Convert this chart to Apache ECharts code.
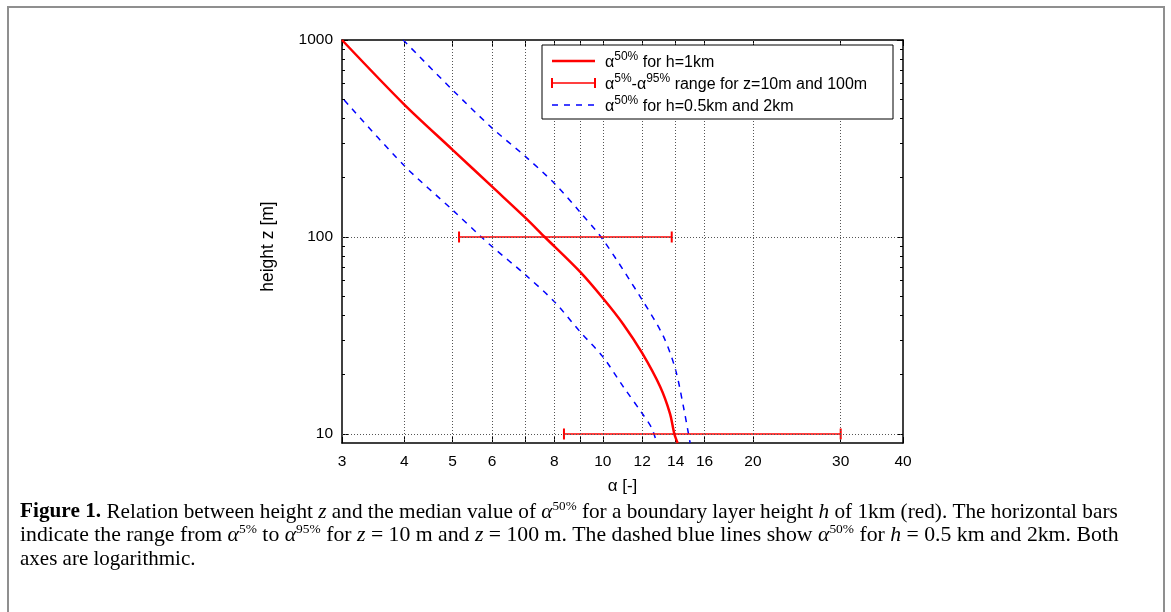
<!DOCTYPE html>
<html>
<head>
<meta charset="utf-8">
<script src="https://cdn.jsdelivr.net/npm/echarts@6/dist/echarts.min.js"></script>
<style>
  html, body { margin: 0; padding: 0; background: #fff; }
  #chart { width: 1171px; height: 612px; }
</style>
</head>
<body>
<div id="chart"></div>
<script>
// Axis ticks and grid positions
var alphaLabels = [3, 4, 5, 6, 8, 10, 12, 14, 16, 20, 30, 40];
var alphaGrid = [4, 5, 6, 7, 8, 9, 10, 12, 14, 16, 20, 30];
var heightLabels = [10, 100, 1000];
var heightMinor = [20, 30, 40, 50, 60, 70, 80, 90, 200, 300, 400, 500, 600, 700, 800, 900];
var heightGrid = [10, 100];

// Median alpha profile for h = 1 km
var alphaH1 = [3.0, 4.0, 5.0, 6.0, 7.0, 7.65, 9.0, 10.0, 11.0, 12.0, 13.03, 13.64, 13.92, 14.13];
var zH1 = [1000, 470, 277, 180, 125, 100, 66.7, 49, 36, 25.7, 17.4, 12.7, 10, 9];

// Median alpha profile for h = 0.5 km
var alphaH05 = [3.03, 4.0, 5.0, 5.71, 6.0, 7.0, 8.0, 9.0, 10.0, 10.99, 12.0, 12.54, 12.83];
var zH05 = [496, 230, 137, 100, 89.3, 64.2, 46.9, 33.1, 24.7, 17.4, 12.7, 10.7, 9];

// Median alpha profile for h = 2 km
var alphaH2 = [3.98, 5.0, 6.0, 7.0, 8.0, 9.0, 10.0, 12.0, 13.24, 14.0, 14.51, 14.97];
var zH2 = [1000, 557, 357, 256, 187, 134, 97.3, 47.9, 31.2, 21.1, 13.8, 9];

// 5%-95% ranges at z = 10 m and z = 100 m
var rangeZ = [10, 100];
var rangeLow = [8.36, 5.15];
var rangeHigh = [30, 13.75];

function pairs(xs, ys) {
  return xs.map(function (x, i) { return [x, ys[i]]; });
}

var RED = '#ff0000';
var BLUE = '#0000ff';
var SANS = '"Liberation Sans", Arial, sans-serif';
var SERIF = '"Liberation Serif", "Times New Roman", serif';

var rangeSeries = rangeZ.map(function (z, i) {
  return {
    type: 'line',
    data: [[rangeLow[i], z], [rangeHigh[i], z]],
    symbol: 'rect',
    symbolSize: [2, 11],
    showSymbol: true,
    itemStyle: { color: RED },
    lineStyle: { color: RED, width: 1.5 },
    z: 4,
    silent: true,
    animation: false
  };
});

var gridSeries = {
  type: 'line',
  data: [],
  silent: true,
  z: 1,
  markLine: {
    silent: true,
    symbol: 'none',
    animation: false,
    label: { show: false },
    lineStyle: { color: '#555', width: 1, type: [1, 2] },
    data: alphaGrid.map(function (a) { return { xAxis: a }; })
      .concat(heightGrid.map(function (h) { return { yAxis: h }; }))
  }
};

var axisBase = {
  type: 'log',
  logBase: 10,
  axisLine: { show: true, onZero: false, lineStyle: { color: '#000', width: 1.5 } },
  splitLine: { show: false },
  minorTick: { show: false }
};

function plain(v) { return String(Math.round(v)); }

function xAxisDef(pos, withLabels) {
  return Object.assign({}, axisBase, {
    position: pos,
    min: 3, max: 40,
    axisTick: { show: true, inside: true, length: 6, customValues: alphaGrid.concat([3, 40]), lineStyle: { color: '#000', width: 1 } },
    axisLabel: withLabels ? {
      show: true, customValues: alphaLabels, fontSize: 15.5, fontFamily: SANS, color: '#000', margin: 11,
      showMinLabel: true, showMaxLabel: true, formatter: plain
    } : { show: false },
    name: withLabels ? 'α [-]' : '',
    nameLocation: 'middle',
    nameGap: 35,
    nameTextStyle: { fontSize: 17, fontFamily: SANS, color: '#000' }
  });
}

function yAxisDef(pos, minor, withLabels) {
  return Object.assign({}, axisBase, {
    position: pos,
    min: 9, max: 1000,
    axisLine: { show: !minor, onZero: false, lineStyle: { color: '#000', width: 1.5 } },
    axisTick: { show: true, inside: true, length: minor ? 3 : 6, customValues: minor ? heightMinor : heightLabels, lineStyle: { color: '#000', width: 1 } },
    axisLabel: withLabels ? {
      show: true, customValues: heightLabels, fontSize: 15.5, fontFamily: SANS, color: '#000', margin: 9,
      showMinLabel: true, showMaxLabel: true, formatter: plain
    } : { show: false },
    name: withLabels ? 'height z [m]' : '',
    nameLocation: 'middle',
    nameGap: 65,
    nameRotate: 90,
    nameTextStyle: { fontSize: 17.5, fontFamily: SANS, color: '#000', padding: [0, 10, 0, 0] }
  });
}

// Legend, drawn as a framed box with line samples
var legX = 542, legY = 45, legW = 351, legH = 74;
var legRows = [61, 83, 105];
var legRich = {
  a: { fontSize: 16, fontFamily: SANS, verticalAlign: 'bottom', lineHeight: 20 },
  s: { fontSize: 12, fontFamily: SANS, verticalAlign: 'top', lineHeight: 11 },
  t: { fontSize: 16, fontFamily: SANS, verticalAlign: 'bottom', lineHeight: 20 }
};
var legTexts = [
  '{a|α}{s|50%}{t| for h=1km}',
  '{a|α}{s|5%}{t|-}{a|α}{s|95%}{t| range for z=10m and 100m}',
  '{a|α}{s|50%}{t| for h=0.5km and 2km}'
];

var legendGraphics = [
  { type: 'rect', shape: { x: legX, y: legY, width: legW, height: legH }, style: { fill: '#fff', stroke: '#000', lineWidth: 1 }, z: 10 },
  { type: 'line', shape: { x1: 552, y1: legRows[0], x2: 595, y2: legRows[0] }, style: { stroke: RED, lineWidth: 2.5 }, z: 11 },
  { type: 'line', shape: { x1: 552, y1: legRows[1], x2: 595, y2: legRows[1] }, style: { stroke: RED, lineWidth: 1.5 }, z: 11 },
  { type: 'line', shape: { x1: 552, y1: legRows[1] - 5, x2: 552, y2: legRows[1] + 5 }, style: { stroke: RED, lineWidth: 2 }, z: 11 },
  { type: 'line', shape: { x1: 595, y1: legRows[1] - 5, x2: 595, y2: legRows[1] + 5 }, style: { stroke: RED, lineWidth: 2 }, z: 11 },
  { type: 'line', shape: { x1: 552, y1: legRows[2], x2: 595, y2: legRows[2] }, style: { stroke: BLUE, lineWidth: 1.5, lineDash: [6, 6] }, z: 11 }
].concat(legTexts.map(function (t, i) {
  return {
    type: 'text', x: 605, y: legRows[i], z: 11,
    style: { text: t, rich: legRich, fill: '#000', verticalAlign: 'middle', align: 'left', fontSize: 16, fontFamily: SANS }
  };
}));

// Figure caption (first two lines stretched slightly to fill the justified measure)
var capRich = {
  b: { fontSize: 21, fontFamily: SERIF, fontWeight: 'bold', lineHeight: 24 },
  i: { fontSize: 21, fontFamily: SERIF, fontStyle: 'italic', lineHeight: 24 },
  s: { fontSize: 13, fontFamily: SERIF, verticalAlign: 'top', lineHeight: 11 }
};
var capLines = [
  '{b|Figure 1.} Relation between height {i|z} and the median value of {i|α}{s|50%} for a boundary layer height {i|h} of 1km (red). The horizontal bars',
  'indicate the range from {i|α}{s|5%} to {i|α}{s|95%} for {i|z} = 10 m and {i|z} = 100 m. The dashed blue lines show {i|α}{s|50%} for {i|h} = 0.5 km and 2km. Both',
  'axes are logarithmic.'
];
var capStretch = [1.012, 1.035, 1];
var capGraphics = capLines.map(function (t, i) {
  return {
    type: 'text', x: 20, y: 512 + i * 23.5, z: 11, scaleX: capStretch[i],
    style: { text: t, rich: capRich, fill: '#000', verticalAlign: 'middle', align: 'left', fontSize: 21, fontFamily: SERIF, lineHeight: 24 }
  };
});

var frame = {
  type: 'rect', z: 0,
  shape: { x: 8, y: 7, width: 1156, height: 700 },
  style: { fill: 'none', stroke: '#8f8f8f', lineWidth: 2 }
};

var chart = echarts.init(document.getElementById('chart'), null, { renderer: 'canvas' });
chart.setOption({
  animation: false,
  backgroundColor: '#fff',
  grid: { left: 342, right: 268, top: 40, bottom: 169, containLabel: false },
  xAxis: [xAxisDef('bottom', true), xAxisDef('top', false)],
  yAxis: [yAxisDef('left', false, true), yAxisDef('left', true, false), yAxisDef('right', false, false), yAxisDef('right', true, false)],
  series: [
    gridSeries,
    {
      type: 'line', data: pairs(alphaH05, zH05), smooth: 0.3, showSymbol: false, symbol: 'none',
      lineStyle: { color: BLUE, width: 1.5, type: [6, 6] }, z: 3, silent: true
    },
    {
      type: 'line', data: pairs(alphaH2, zH2), smooth: 0.3, showSymbol: false, symbol: 'none',
      lineStyle: { color: BLUE, width: 1.5, type: [6, 6] }, z: 3, silent: true
    },
    {
      type: 'line', data: pairs(alphaH1, zH1), smooth: 0.3, showSymbol: false, symbol: 'none',
      lineStyle: { color: RED, width: 2.5 }, z: 5, silent: true
    }
  ].concat(rangeSeries),
  graphic: [frame].concat(legendGraphics).concat(capGraphics)
});
</script>
</body>
</html>
